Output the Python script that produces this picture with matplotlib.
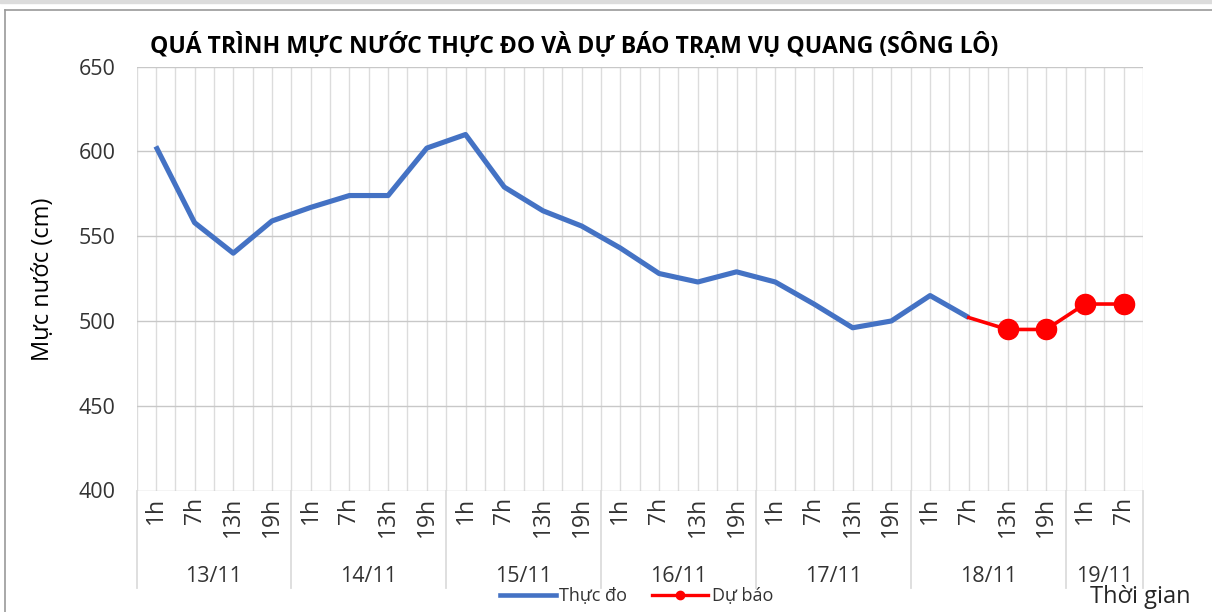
import numpy as np
import matplotlib
matplotlib.use("Agg")
import matplotlib.pyplot as plt
from matplotlib import font_manager
from matplotlib.lines import Line2D
from matplotlib.patches import Rectangle
import matplotlib.transforms as mtransforms

# ---------------- data ----------------
hours = ["1h", "7h", "13h", "19h"] * 6 + ["1h", "7h"]
days = ["13/11", "14/11", "15/11", "16/11", "17/11", "18/11", "19/11"]
day_sizes = [4, 4, 4, 4, 4, 4, 2]
observed = [603, 558, 540, 559, 567, 574, 574, 602, 610, 579, 565, 556,
            543, 528, 523, 529, 523, 510, 496, 500, 515, 502]
forecast = [502, 495, 495, 510, 510]
forecast_start = 21
yticks = [400, 450, 500, 550, 600, 650]

title = "QUÁ TRÌNH MỰC NƯỚC THỰC ĐO VÀ DỰ BÁO TRẠM VỤ QUANG (SÔNG LÔ)"
ylabel = "Mực nước (cm)"
xlabel = "Thời gian"
legend_obs = "Thực đo"
legend_fc = "Dự báo"

# ---------------- style ----------------
W, H = 1212, 612
FONT = ["Open Sans", "DejaVu Sans"]
plt.rcParams["font.family"] = FONT
BLUE = "#4472C4"
RED = "#FF0000"
GRID_V = "#DCDCDC"
GRID_H = "#C8C8C8"
TXT = "#333333"

fig = plt.figure(figsize=(W / 100, H / 100), dpi=100)
L, R, T, B = 136.5, 1143, 66.7, 490.5
ax = fig.add_axes([L / W, 1 - B / H, (R - L) / W, (B - T) / H])

n = len(hours)
x_obs = np.arange(len(observed))
x_fc = np.arange(forecast_start, forecast_start + len(forecast))

ax.plot(x_obs, observed, color=BLUE, lw=3.7, solid_joinstyle="round",
        solid_capstyle="butt", zorder=3)
ax.plot(x_fc, forecast, color=RED, lw=2.6, marker="o", markersize=14.5,
        markevery=list(range(1, len(forecast))), zorder=4)

ax.set_xlim(-0.5, n - 0.5)
ax.set_ylim(yticks[0], yticks[-1])
ax.set_yticks(yticks)
ax.set_xticks(np.arange(n))
ax.set_xticklabels(hours, rotation=90, fontsize=16.5, color=TXT)
ax.set_xticks(np.arange(-0.5, n, 1.0), minor=True)
ax.tick_params(axis="x", which="both", length=0, pad=4.5)
ax.tick_params(axis="y", length=0, pad=15, labelsize=15.5, labelcolor=TXT)
ax.grid(axis="x", which="both", color=GRID_V, lw=1.0)
ax.grid(axis="y", which="major", color=GRID_H, lw=1.0)
ax.set_axisbelow(True)
for s in ax.spines.values():
    s.set_visible(False)

# day separators and labels
trans = mtransforms.blended_transform_factory(ax.transData, ax.transAxes)
sep_bottom = (B - 588) / (B - T)
bounds = np.concatenate([[0], np.cumsum(day_sizes)]) - 0.5
for xb in bounds:
    ax.plot([xb, xb], [0, sep_bottom], color=GRID_V, lw=1.3,
            transform=trans, clip_on=False)
day_y = (B - 576) / (B - T)
start = 0
for d, sz in zip(days, day_sizes):
    ax.text(start - 0.5 + sz / 2, day_y, d, transform=trans, ha="center",
            va="center", fontsize=15.5, color=TXT)
    start += sz

# title
names = {f.name for f in font_manager.fontManager.ttflist}
title_family = "Liberation Sans Narrow" if "Liberation Sans Narrow" in names else "Open Sans"
t = fig.text(150 / W, 1 - 46 / H, title, fontsize=20, fontweight="bold",
             family=[title_family, "DejaVu Sans"], ha="left", va="center",
             color="black")
fig.canvas.draw()
w = t.get_window_extent().width
t.set_fontsize(20 * 845 / w)

# axis titles
fig.text(43 / W, 1 - 279 / H, ylabel, rotation=90, ha="center", va="center",
         fontsize=17, color="black")
fig.text(1090 / W, 1 - 597 / H, xlabel, ha="left", va="center",
         fontsize=17, color="#262626")

# legend
h1 = Line2D([], [], color=BLUE, lw=3.3)
h2 = Line2D([], [], color=RED, lw=2.4, marker="o", markersize=6)
fig.legend([h1, h2], [legend_obs, legend_fc], loc="center",
           bbox_to_anchor=(636.5 / W, 1 - 596 / H), ncol=2, frameon=False,
           fontsize=13, handlelength=3.1, handletextpad=0.2,
           columnspacing=1.4, borderpad=0, borderaxespad=0,
           labelcolor=TXT)

# outer frame of the screenshot
fig.patches.append(Rectangle((0, 1 - 3 / H), 1, 3 / H, transform=fig.transFigure,
                             color="#DCDCDC", zorder=0))
fig.lines.append(Line2D([4.5 / W, 1], [1 - 10 / H, 1 - 10 / H],
                        transform=fig.transFigure, color="#9A9A9A", lw=1.2))
fig.lines.append(Line2D([4.5 / W, 4.5 / W], [1 - 10 / H, 0],
                        transform=fig.transFigure, color="#9A9A9A", lw=1.2))

fig.savefig("out.png", dpi=100)
